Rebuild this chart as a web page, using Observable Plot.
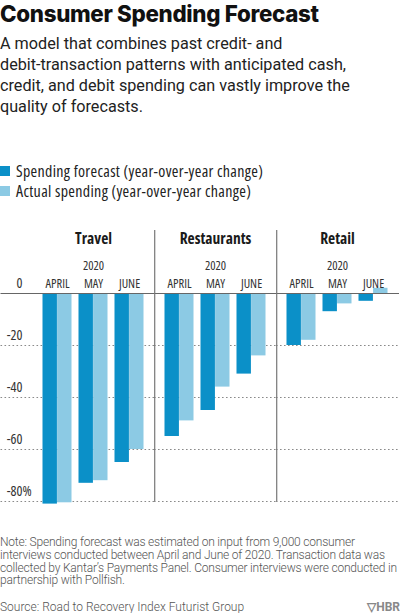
<!DOCTYPE html>
<html>
<head>
<meta charset="utf-8">
<script src="https://cdn.jsdelivr.net/npm/d3@7"></script>
<script src="https://cdn.jsdelivr.net/npm/@observablehq/plot@0.6"></script>
<style>
  html, body { margin: 0; padding: 0; background: #fff; width: 400px; overflow: hidden; }
  body { font-family: Roboto, "Liberation Sans", sans-serif; color: #111; }
  .title { font-family: Inter, Roboto, sans-serif; font-weight: 800; font-size: 22.3px; line-height: 27px; letter-spacing: -0.3px; margin: 0; padding-top: 0; color: #111; white-space: nowrap; }
  .sub { font-family: Roboto, sans-serif; font-size: 16.2px; line-height: 21px; margin: 6px 0 0 0; color: #222; }
  .legend { margin-top: 44px; font-family: "Open Sans", Roboto, sans-serif; font-stretch: 75%; font-weight: 500; font-size: 16px; letter-spacing: 0.33px; color: #222; }
  .legend div { height: 20px; line-height: 20px; display: flex; align-items: center; }
  .sw { display: inline-block; width: 10px; height: 10px; margin-right: 6px; }
  #chart { margin-top: 18px; }
  .note { font-family: Roboto, sans-serif; font-size: 12px; letter-spacing: -0.2px; line-height: 12.8px; color: #555; margin: 22px 0 0 0; font-weight: 300; white-space: nowrap; }
  .src { font-family: Roboto, sans-serif; font-size: 12px; color: #555; margin-top: 13px; display: flex; justify-content: space-between; font-weight: 300; }
  .hbr { font-weight: 700; color: #888; }
  #chart svg { display: block; }
  #chart svg text { font-stretch: 75%; }
</style>
</head>
<body>
<div class="title">Consumer Spending Forecast</div>
<div class="sub">A model that combines past credit- and<br>debit-transaction patterns with anticipated cash,<br>credit, and debit spending can vastly improve the<br>quality of forecasts.</div>
<div class="legend" id="legend"></div>
<div id="chart"></div>
<div class="note">Note: Spending forecast was estimated on input from 9,000 consumer<br>interviews conducted between April and June of 2020. Transaction data was<br>collected by Kantar’s Payments Panel. Consumer interviews were conducted in<br>partnership with Pollfish.</div>
<div class="src"><span>Source: Road to Recovery Index Futurist Group</span><span class="hbr">▽HBR</span></div>
<script>
// ---- data ----
const categories = ["Travel", "Restaurants", "Retail"];
const months = ["APRIL", "MAY", "JUNE"];
const yearLabel = "2020";
const seriesNames = ["Spending forecast (year-over-year change)", "Actual spending (year-over-year change)"];
// values per category, in month order
const forecastTravel = [-81, -73, -65];
const forecastRestaurants = [-55, -45, -31];
const forecastRetail = [-20, -7, -3];
const actualTravel = [-80.5, -72, -60];
const actualRestaurants = [-49, -36, -24];
const actualRetail = [-18, -4, 2];
const yTicks = [0, -20, -40, -60, -80];

const colors = ["#0b90c8", "#8ccae4"];

// ---- build table ----
const forecastByCat = {Travel: forecastTravel, Restaurants: forecastRestaurants, Retail: forecastRetail};
const actualByCat = {Travel: actualTravel, Restaurants: actualRestaurants, Retail: actualRetail};
const forecastRows = [], actualRows = [], gridRows = [];
for (const c of categories) {
  months.forEach((m, i) => {
    forecastRows.push({cat: c, month: m, value: forecastByCat[c][i]});
    actualRows.push({cat: c, month: m, value: actualByCat[c][i]});
  });
  yTicks.forEach(t => gridRows.push({cat: c, value: t}));
}

// legend
const legend = document.getElementById("legend");
seriesNames.forEach((s, i) => {
  const d = document.createElement("div");
  d.innerHTML = `<span class="sw" style="background:${colors[i]}"></span><span>${s}</span>`;
  legend.appendChild(d);
});

// ---- layout constants ----
const W = 400, H = 295, mL = 31.5, mR = 1, mT = 74, mB = 13;
const pIn = 0.2, pOut = 0.28;
const facetW = (W - mL - mR) / categories.length;
const step = facetW / (months.length - pIn + 2 * pOut);
const bw = step * (1 - pIn);
const half = bw / 2;
const chartFont = `"Open Sans", Roboto, sans-serif`;

const first = categories[0], last = categories[categories.length - 1];
const gridFirst = gridRows.filter(d => d.cat === first && d.value !== 0);
const gridMid = gridRows.filter(d => d.cat !== first && d.cat !== last && d.value !== 0);
const gridLast = gridRows.filter(d => d.cat === last && d.value !== 0);
const zeroFirst = gridRows.filter(d => d.cat === first && d.value === 0);
const zeroMid = gridRows.filter(d => d.cat !== first && d.cat !== last && d.value === 0);
const zeroLast = gridRows.filter(d => d.cat === last && d.value === 0);
const gridStyle = {fx: "cat", y: "value", stroke: "#8a8a8a", strokeDasharray: "1.6,2.4", strokeWidth: 1};
const zeroStyle = {fx: "cat", y: "value", stroke: "#666", strokeWidth: 1.2};

const chart = Plot.plot({
  width: W, height: H,
  marginLeft: mL, marginRight: mR, marginTop: mT, marginBottom: mB,
  style: {fontFamily: chartFont, background: "transparent", overflow: "visible"},
  fx: {domain: categories, padding: 0},
  x: {domain: months, paddingInner: pIn, paddingOuter: pOut},
  y: {domain: [-80, 0]},
  marks: [
    Plot.ruleY(gridFirst, {...gridStyle, insetLeft: -mL}),
    Plot.ruleY(gridMid, gridStyle),
    Plot.ruleY(gridLast, {...gridStyle, insetRight: -mR}),
    Plot.barY(forecastRows, {fx: "cat", x: "month", y: "value", fill: colors[0], insetLeft: 0, insetRight: half}),
    Plot.barY(actualRows, {fx: "cat", x: "month", y: "value", fill: colors[1], insetLeft: half, insetRight: 0}),
    Plot.ruleY(zeroFirst, {...zeroStyle, insetLeft: -mL}),
    Plot.ruleY(zeroMid, zeroStyle),
    Plot.ruleY(zeroLast, {...zeroStyle, insetRight: -mR}),
    Plot.ruleX(categories.slice(1), {fx: d => d, x: () => months[0], dx: -(pOut * step + half), insetTop: -63, stroke: "#777", strokeWidth: 1.2}),
    Plot.axisFx({anchor: "top", tickSize: 0, label: null, fontWeight: "bold", fontSize: 15.5, fill: "#1a1a1a", dy: -41}),
    Plot.axisX({anchor: "top", tickSize: 0, label: null, fontSize: 12.5, fill: "#333", dy: 3}),
    Plot.text(categories, {fx: d => d, x: () => months[1], frameAnchor: "top", text: () => yearLabel, lineAnchor: "bottom", dy: -24, fontSize: 12.5, fill: "#333"}),
    Plot.axisY(yTicks, {anchor: "left", tickSize: 0, tickPadding: 10, label: null, tickFormat: d => String(d), fontSize: 14, fill: "#333", dy: -9.5}),
    Plot.axisY([-80], {anchor: "left", tickSize: 0, tickPadding: 10, label: null, tickFormat: () => "%", textAnchor: "start", fontSize: 14, fill: "#333", dy: -9.5})
  ]
});
document.getElementById("chart").appendChild(chart);
</script>
</body>
</html>
